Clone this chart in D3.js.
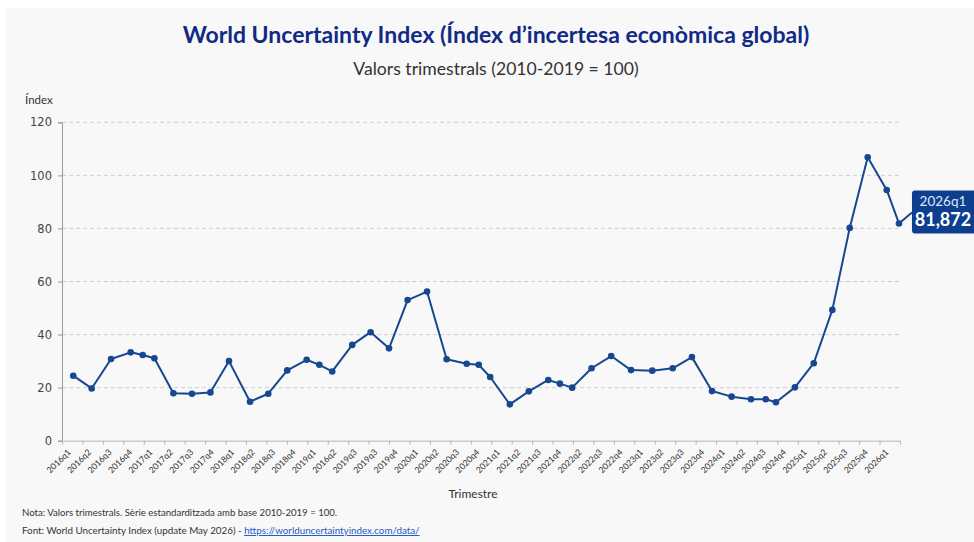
<!DOCTYPE html>
<html><head><meta charset="utf-8">
<script src="https://cdn.jsdelivr.net/npm/d3@7"></script>
<style>
html,body{margin:0;padding:0;background:#fff;}
svg{display:block;}
</style></head>
<body>
<svg id="c" width="974" height="542"></svg>
<script>
// ---- data ----
const tickLabels = ["2016q1","2016q2","2016q3","2016q4","2017q1","2017q2","2017q3","2017q4",
  "2018q1","2018q2","2018q3","2018q4","2019q1","2016q2","2019q3","2019q3","2019q4",
  "2020q1","2020q2","2020q3","2020q4","2021q1","2021q2","2021q3","2021q4",
  "2022q2","2022q3","2022q4","2023q1","2023q2","2023q3","2023q4",
  "2024q1","2024q2","2024q3","2024q4","2025q1","2025q2","2025q3","2025q4","2026q1"];
// position of each observation on the quarter axis (0 = 2016q1)
const obsQuarter = [0.05,0.95,1.90,2.86,3.45,4.02,4.95,5.86,6.76,7.67,8.70,9.59,10.52,11.47,12.09,12.72,
  13.70,14.60,15.50,16.41,17.36,18.32,19.30,19.89,20.45,21.41,22.34,23.29,23.86,24.46,25.41,26.37,
  27.34,28.38,29.38,30.32,31.30,32.26,33.21,33.93,34.43,35.36,36.28,37.19,38.04,38.92,39.85,40.45];
const obsValue = [24.5,19.7,30.8,33.3,32.3,31.1,17.9,17.7,18.2,30.0,14.7,17.7,26.5,30.5,28.6,26.1,
  36.1,40.9,34.8,53.0,56.2,30.7,29.0,28.6,24.0,13.7,18.6,22.9,21.5,20.0,27.3,31.9,
  26.6,26.4,27.3,31.5,18.7,16.6,15.6,15.6,14.5,20.1,29.2,49.3,80.2,106.8,94.5,81.872];
const yTicks = [0,20,40,60,80,100,120];
const lastLabel = "2026q1";
const titleText = "World Uncertainty Index (Índex d’incertesa econòmica global)";
const subtitleText = "Valors trimestrals (2010-2019 = 100)";
const yAxisTitle = "Índex";
const xAxisTitle = "Trimestre";
const noteText = "Nota: Valors trimestrals. Sèrie estandarditzada amb base 2010-2019 = 100.";
const sourceText = "Font: World Uncertainty Index (update May 2026) - ";
const sourceLink = "https://worlduncertaintyindex.com/data/";

// ---- drawing ----
(function () {
const svg = d3.select("#c");
const W = 974, H = 542;
const mL = 62, mR = 900, mT = 122.3, mB = 440.7;
const navy = "#16478f";

svg.append("rect").attr("x",6).attr("y",8).attr("width",W-6).attr("height",H-8).attr("fill","#f8f8f8");

const x = d3.scaleLinear().domain([-0.5, tickLabels.length - 0.5]).range([mL, mR]);
const y = d3.scaleLinear().domain([0, 120]).range([mB, mT]);

// gridlines
svg.append("g").selectAll("line").data(yTicks.filter(d => d > 0)).join("line")
  .attr("x1", mL).attr("x2", mR)
  .attr("y1", d => y(d)).attr("y2", d => y(d))
  .attr("stroke", "#cfcfcf").attr("stroke-width", 1).attr("stroke-dasharray", "4,3");

// y axis
const yAxis = d3.axisLeft(y).tickValues(yTicks).tickSize(4).tickPadding(6);
const gy = svg.append("g").attr("transform", `translate(${mL},0)`).call(yAxis);
gy.select(".domain").attr("stroke", "#9a9a9a");
gy.selectAll(".tick line").attr("stroke", "#9a9a9a");
gy.selectAll(".tick text").attr("font-family", "DejaVu Sans, sans-serif").attr("font-size", 11.5).attr("fill", "#444");

// x axis
const xAxis = d3.axisBottom(x)
  .tickValues(d3.range(tickLabels.length + 1).map(i => i - 0.5))
  .tickFormat("").tickSize(4).tickSizeOuter(0);
const gx = svg.append("g").attr("transform", `translate(0,${mB})`).call(xAxis);
gx.select(".domain").attr("stroke", "#b5b5b5");
gx.selectAll(".tick line").attr("stroke", "#b5b5b5");

svg.append("g").selectAll("text").data(tickLabels).join("text")
  .attr("transform", (d, i) => `translate(${x(i) - 3},${mB + 10}) rotate(-45)`)
  .attr("text-anchor", "end").attr("dy", "0.35em")
  .attr("font-family", "Lato, sans-serif").attr("font-size", 8.6).attr("fill", "#333")
  .text(d => d);

// line
const pts = obsValue.map((v, i) => ({ t: obsQuarter[i], v }));
const line = d3.line().x(d => x(d.t)).y(d => y(d.v));
svg.append("path").datum(pts).attr("d", line)
  .attr("fill", "none").attr("stroke", navy).attr("stroke-width", 2).attr("stroke-linejoin", "round");
svg.append("g").selectAll("circle").data(pts).join("circle")
  .attr("cx", d => x(d.t)).attr("cy", d => y(d.v)).attr("r", 3.3).attr("fill", navy);

// callout
const last = pts[pts.length - 1];
const fmt = d3.formatLocale({ decimal: ",", thousands: ".", grouping: [3], currency: ["", "€"] }).format(".3f");
const bx = x(last.t) + 13, by = y(last.v) - 33;
svg.append("line").attr("x1", x(last.t)).attr("y1", y(last.v)).attr("x2", bx).attr("y2", by + 22)
  .attr("stroke", navy).attr("stroke-width", 2);
svg.append("rect").attr("x", bx).attr("y", by).attr("width", 70).attr("height", 43).attr("rx", 3)
  .attr("fill", "#0e3f8e");
svg.append("text").attr("x", bx + 31).attr("y", by + 16).attr("text-anchor", "middle")
  .attr("font-family", "Lato, sans-serif").attr("font-size", 13.5).attr("fill", "#dfe8f6").text(lastLabel);
svg.append("text").attr("x", bx + 31).attr("y", by + 36).attr("text-anchor", "middle")
  .attr("font-family", "Lato, sans-serif").attr("font-weight", "bold").attr("font-size", 18).attr("fill", "#fff")
  .text(fmt(last.v));

// titles
svg.append("text").attr("x", 496).attr("y", 43).attr("text-anchor", "middle")
  .attr("font-family", "Lato, sans-serif").attr("font-weight", "bold").attr("font-size", 23).attr("fill", "#112a85")
  .text(titleText);
svg.append("text").attr("x", 496).attr("y", 75).attr("text-anchor", "middle")
  .attr("font-family", "Lato, sans-serif").attr("font-size", 17.6).attr("fill", "#333")
  .text(subtitleText);
svg.append("text").attr("x", 25).attr("y", 104)
  .attr("font-family", "Lato, sans-serif").attr("font-size", 11.5).attr("fill", "#333").text(yAxisTitle);
svg.append("text").attr("x", 473).attr("y", 498).attr("text-anchor", "middle")
  .attr("font-family", "Lato, sans-serif").attr("font-size", 12).attr("fill", "#333").text(xAxisTitle);

// footnotes
svg.append("text").attr("x", 22).attr("y", 516)
  .attr("font-family", "Lato, sans-serif").attr("font-size", 9.6).attr("fill", "#333").text(noteText);
const src = svg.append("text").attr("x", 22).attr("y", 534)
  .attr("font-family", "Lato, sans-serif").attr("font-size", 9.8).attr("fill", "#333");
src.append("tspan").text(sourceText);
src.append("tspan").attr("fill", "#1f5bbf").attr("text-decoration", "underline").text(sourceLink);
})();
</script>
</body></html>
